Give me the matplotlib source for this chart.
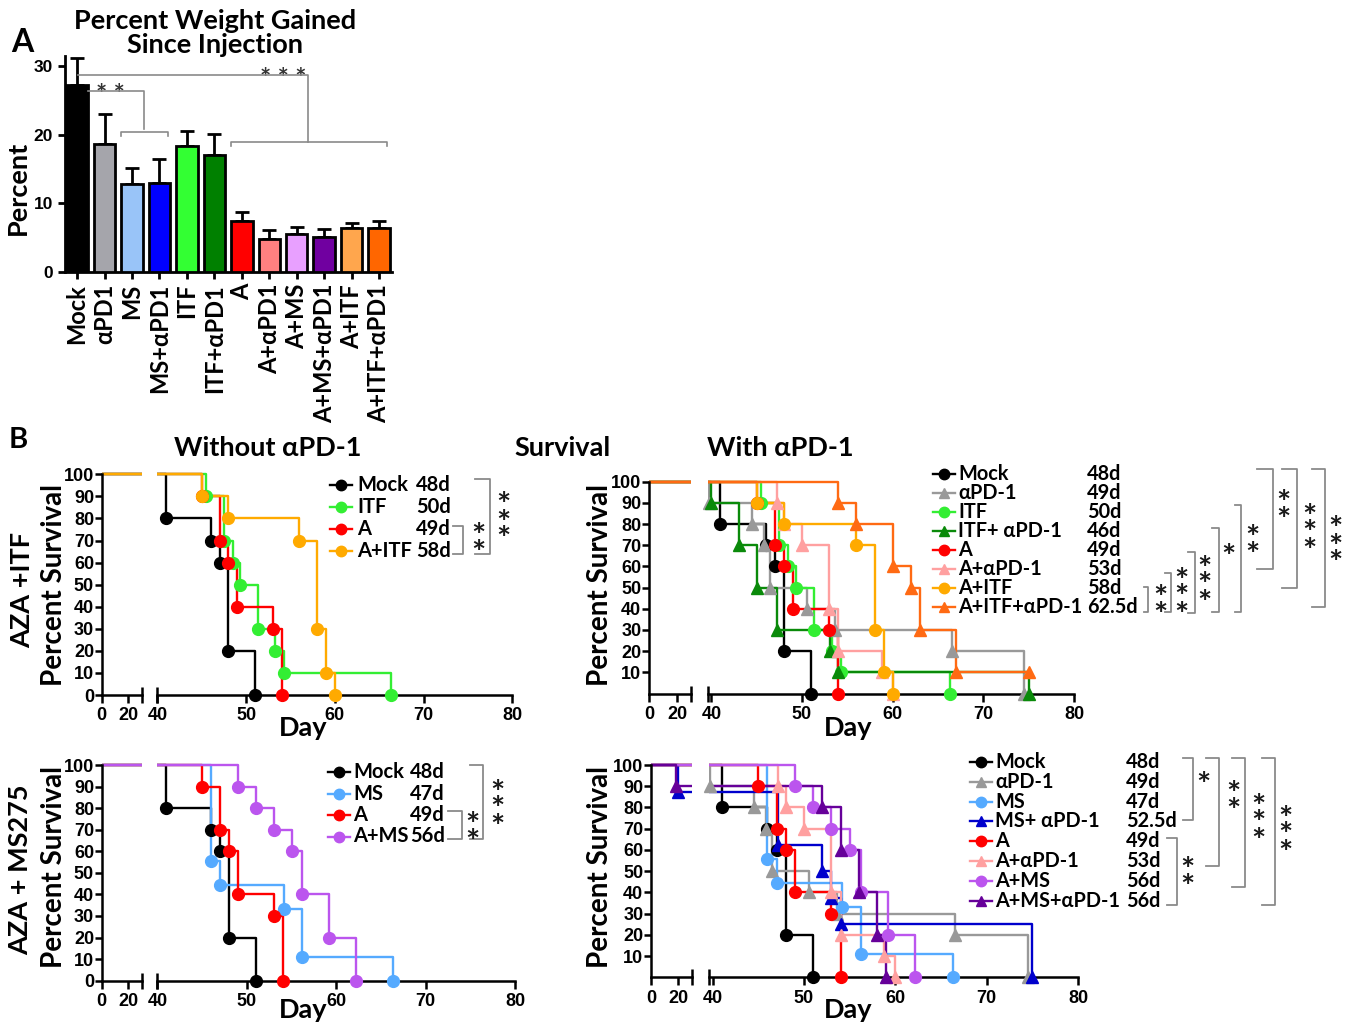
import matplotlib
matplotlib.use('Agg')
import matplotlib.pyplot as plt
from matplotlib.lines import Line2D

W, H = 1357, 1028
plt.rcParams['font.family'] = ['Lato', 'DejaVu Sans']
plt.rcParams['font.weight'] = 'bold'

# ---------------- Panel A : données
barres_noms = ['Mock', 'αPD1', 'MS', 'MS+αPD1', 'ITF', 'ITF+αPD1', 'A', 'A+αPD1',
               'A+MS', 'A+MS+αPD1', 'A+ITF', 'A+ITF+αPD1']
barres_moy = [27.2, 18.7, 12.8, 13.0, 18.3, 17.1, 7.5, 4.8, 5.6, 5.1, 6.4, 6.4]
barres_err = [4.0, 4.3, 2.4, 3.5, 2.3, 3.0, 1.2, 1.3, 1.0, 1.1, 0.8, 1.0]
barres_coul = ['#000000', '#a5a5ab', '#99c4f8', '#0000ff', '#33ff33', '#008000',
               '#ff0000', '#ff8080', '#e8a0ff', '#7000a0', '#ffa64d', '#ff6600']

# ---------------- Panel B : courbes de survie (jour, % après chaque décès)
mock_t = [41, 46, 47, 48, 51]
mock_s = [80, 70, 60, 20, 0]
apd1_t = [39.7, 44.5, 45.8, 46.5, 50.5, 53.6, 66.5, 74.5]
apd1_s = [90, 80, 70, 50, 40, 30, 20, 0]
itf_t = [45.5, 47.5, 48.5, 49.3, 51.3, 53.3, 54.3, 66.3]
itf_s = [90, 70, 60, 50, 30, 20, 10, 0]
itf_apd1_t = [40, 43, 45, 47.2, 53.1, 54, 75]
itf_apd1_s = [90, 70, 50, 30, 20, 10, 0]
a_t = [45, 47, 48, 49, 53, 54]
a_s = [90, 70, 60, 40, 30, 0]
a_apd1_t = [47.2, 48, 50, 53, 54, 58.8, 60]
a_apd1_s = [90, 80, 70, 40, 20, 10, 0]
a_itf_t = [45, 48, 56, 58, 59, 60]
a_itf_s = [90, 80, 70, 30, 10, 0]
a_itf_apd1_t = [54, 56, 60, 62, 63, 67, 75]
a_itf_apd1_s = [90, 80, 60, 50, 30, 10, 10]
ms_t = [46, 47, 54.2, 56.2, 66.3]
ms_s = [55.5, 44.4, 33.3, 11.1, 0]
ms_apd1_t = [20, 47.2, 52, 53, 54, 75]
ms_apd1_s = [87.5, 62.5, 50, 37.5, 25, 0]
a_ms_t = [49, 51, 53, 55, 56.2, 59.2, 62.2]
a_ms_s = [90, 80, 70, 60, 40, 20, 0]
a_ms_apd1_t = [18, 52, 54, 56, 58, 59]
a_ms_apd1_s = [90, 80, 60, 40, 20, 0]

# (temps, survie, couleur, marqueur)
G = {
    'mock': (mock_t, mock_s, '#000000', 'o'),
    'apd1': (apd1_t, apd1_s, '#999999', '^'),
    'itf': (itf_t, itf_s, '#33ee33', 'o'),
    'itf_apd1': (itf_apd1_t, itf_apd1_s, '#0a8a0a', '^'),
    'a': (a_t, a_s, '#ff0000', 'o'),
    'a_apd1': (a_apd1_t, a_apd1_s, '#ffa0a0', '^'),
    'a_itf': (a_itf_t, a_itf_s, '#ffaa00', 'o'),
    'a_itf_apd1': (a_itf_apd1_t, a_itf_apd1_s, '#ff6a13', '^'),
    'ms': (ms_t, ms_s, '#55aaff', 'o'),
    'ms_apd1': (ms_apd1_t, ms_apd1_s, '#0000cc', '^'),
    'a_ms': (a_ms_t, a_ms_s, '#bb55ee', 'o'),
    'a_ms_apd1': (a_ms_apd1_t, a_ms_apd1_s, '#660099', '^'),
}

tl_cles = ['mock', 'itf', 'a', 'a_itf']
tl_noms = ['Mock', 'ITF', 'A', 'A+ITF']
tl_med = ['48d', '50d', '49d', '58d']
tr_cles = ['mock', 'apd1', 'itf', 'itf_apd1', 'a', 'a_apd1', 'a_itf', 'a_itf_apd1']
tr_noms = ['Mock', 'αPD-1', 'ITF', 'ITF+ αPD-1', 'A', 'A+αPD-1', 'A+ITF', 'A+ITF+αPD-1']
tr_med = ['48d', '49d', '50d', '46d', '49d', '53d', '58d', '62.5d']
bl_cles = ['mock', 'ms', 'a', 'a_ms']
bl_noms = ['Mock', 'MS', 'A', 'A+MS']
bl_med = ['48d', '47d', '49d', '56d']
br_cles = ['mock', 'apd1', 'ms', 'ms_apd1', 'a', 'a_apd1', 'a_ms', 'a_ms_apd1']
br_noms = ['Mock', 'αPD-1', 'MS', 'MS+ αPD-1', 'A', 'A+αPD-1', 'A+MS', 'A+MS+αPD-1']
br_med = ['48d', '49d', '47d', '52.5d', '49d', '53d', '56d', '56d']

TICKFONT = dict(family='Liberation Sans', weight='bold', size=13)
GRIS = '#8a8a8a'

fig = plt.figure(figsize=(W / 100, H / 100), dpi=100)


def fx(x):
    return x / W


def fy(y):
    return 1 - y / H


def txt(x, y, s, **kw):
    kw.setdefault('ha', 'center')
    kw.setdefault('va', 'center')
    kw.setdefault('fontweight', 'bold')
    fig.text(fx(x), fy(y), s, **kw)


def ligne(xs, ys, **kw):
    fig.add_artist(Line2D([fx(x) for x in xs], [fy(y) for y in ys], **kw))


def crochet(x1, x2, ya, yb, n, xe, ye):
    ligne([x1, x2, x2, x1], [ya, ya, yb, yb], color=GRIS, lw=1.3)
    txt(xe, ye + 5, '\n'.join(['*'] * n), fontsize=24, linespacing=0.5, color='#1a1a1a')


# ================= Panel A
yb, ppu = 272, (272 - 66) / 30
axA = fig.add_axes([fx(65), fy(yb), fx(392 - 65), 31.5 * ppu / H])
xs = range(len(barres_noms))
axA.bar(xs, barres_moy, width=0.78, color=barres_coul, edgecolor='black', linewidth=2.0, zorder=3)
axA.errorbar(xs, barres_moy, yerr=[[0] * len(barres_err), barres_err], fmt='none',
             ecolor='black', elinewidth=2, capsize=5, capthick=2, zorder=2)
axA.set_xlim(-0.44, 11.47)
axA.set_ylim(0, 31.5)
axA.set_yticks([0, 10, 20, 30])
axA.set_xticks(list(xs))
axA.set_xticklabels(barres_noms, rotation=90, fontsize=17, fontweight='bold')
for lb in axA.get_yticklabels():
    lb.set_fontproperties(dict(family='Liberation Sans', weight='bold', size=12.5))
for s in ['top', 'right']:
    axA.spines[s].set_visible(False)
for s in ['left', 'bottom']:
    axA.spines[s].set_linewidth(2)
axA.tick_params(width=2, length=5)
# significativité
axA.plot([0.4, 2.45, 2.45], [26.3, 26.3, 20.8], color=GRIS, lw=1.2, zorder=4)
axA.plot([1.6, 1.6, 3.3, 3.3], [19.8, 20.4, 20.4, 19.8], color=GRIS, lw=1.2)
axA.plot([0.05, 8.4, 8.4], [28.7, 28.7, 19.0], color=GRIS, lw=1.2, zorder=4)
axA.plot([5.6, 5.6, 11.27, 11.27], [18.4, 19.0, 19.0, 18.4], color=GRIS, lw=1.2)
axA.text(1.2, 24.0, '* *', ha='center', va='bottom', fontsize=19, color='#333333')
axA.text(7.5, 26.4, '* * *', ha='center', va='bottom', fontsize=19, color='#333333')

txt(215, 33, 'Percent Weight Gained\nSince Injection', fontsize=19.5, linespacing=0.98)
txt(22, 42, 'A', fontsize=23)
txt(18, 188, 'Percent', fontsize=19.5, rotation=90)

# ================= Panel B
txt(18, 440, 'B', fontsize=21)
txt(268, 448, 'Without αPD-1', fontsize=19.5)
txt(563, 448, 'Survival', fontsize=19.5)
txt(780, 448, 'With αPD-1', fontsize=19.5)
txt(22, 590, 'AZA +ITF', fontsize=19.5, rotation=90)
txt(20, 870, 'AZA + MS275', fontsize=19.5, rotation=90)


def survie(cles, xg, xc, xd, x80, deb, y0, y100, zero_lab):
    u = (y0 - y100) / 100
    bas, haut = y0 + 4 * u, y100 - 4 * u
    axg = fig.add_axes([fx(xg), fy(bas), fx(xc - xg), (bas - haut) / H])
    axd = fig.add_axes([fx(xd), fy(bas), fx(x80 - xd), (bas - haut) / H])
    axg.set_xlim(0, 30)
    axd.set_xlim(deb, 80)
    for ax, lim in ((axg, (0, 30)), (axd, (deb, 80))):
        ax.set_ylim(-4, 104)
        ax.patch.set_alpha(0)
        for c in cles:
            t, s, col, m = G[c]
            ax.plot([0] + t, [100] + s, drawstyle='steps-post', color=col, lw=1.7)
            pts = [(a, b) for a, b in zip(t, s) if lim[0] - 0.3 <= a <= lim[1]]
            if pts:
                ax.plot([p[0] for p in pts], [p[1] for p in pts], ls='none', marker=m,
                        ms=8.5, color=col, mec=col, clip_on=False, zorder=3)
        for s in ['top', 'right']:
            ax.spines[s].set_visible(False)
        ax.spines['bottom'].set_position(('data', 0))
        ax.spines['bottom'].set_linewidth(1.8)
        ax.tick_params(axis='x', direction='out', length=6, width=1.8, pad=3)
    axg.set_xticks([0, 20])
    axd.set_xticks([40, 50, 60, 70, 80])
    axg.plot([30], [0], marker='|', ms=11, mew=1.8, color='black', clip_on=False)
    axd.plot([deb], [0], marker='|', ms=11, mew=1.8, color='black', clip_on=False)
    axd.spines['left'].set_visible(False)
    axd.set_yticks([])
    axg.spines['left'].set_bounds(0, 100)
    axg.spines['left'].set_linewidth(1.8)
    axg.set_yticks(range(0 if zero_lab else 10, 101, 10))
    axg.tick_params(axis='y', direction='out', length=5, width=1.8, pad=0.5)
    for ax in (axg, axd):
        for lb in ax.get_xticklabels() + ax.get_yticklabels():
            lb.set_fontproperties(TICKFONT)
    return axg, axd


def legende(cles, noms, meds, xs0, xn, xm, y0, dy, taille, ha_med='left'):
    for i, c in enumerate(cles):
        t, s, col, m = G[c]
        y = y0 + i * dy
        ligne([xs0, xs0 + 22], [y, y], color=col, lw=1.7)
        ligne([xs0 + 11], [y], color=col, marker=m, ms=7.5)
        txt(xn, y, noms[i], fontsize=taille, ha='left')
        txt(xm, y, meds[i], fontsize=taille, ha=ha_med)


# haut gauche
survie(tl_cles, 101.7, 141.7, 157, 512.3, 39.95, 695, 474.3, True)
txt(54, 585, 'Percent Survival', fontsize=20, rotation=90)
txt(303, 728, 'Day', fontsize=19.5)
legende(tl_cles, tl_noms, tl_med, 330, 357, 451, 485, 22, 14.5, 'right')
crochet(453, 463, 526, 554, 2, 478, 541)
crochet(475, 490, 479, 554, 3, 503, 519)

# haut droite
survie(tr_cles, 649, 691, 707.7, 1074, 39.6, 693.5, 481.7, False)
txt(600, 585, 'Percent Survival', fontsize=20, rotation=90)
txt(848, 728, 'Day', fontsize=19.5)
legende(tr_cles, tr_noms, tr_med, 933, 958, 1087, 474, 19, 14.3)
crochet(1144, 1148, 587, 612, 2, 1160, 603)
crochet(1165, 1171, 573, 612, 3, 1181, 594)
crochet(1188, 1195, 552, 613, 3, 1204, 582)
crochet(1212, 1219, 528, 612, 1, 1228, 553)
crochet(1235, 1241, 505, 612, 2, 1252, 543)
crochet(1257, 1273, 469, 569, 2, 1283, 508)
crochet(1282, 1297, 469, 588, 3, 1309, 530)
crochet(1312, 1325, 469, 607, 3, 1335, 543)

# bas gauche
survie(bl_cles, 101.7, 141.7, 157, 515, 39.95, 980.7, 765, True)
txt(54, 867, 'Percent Survival', fontsize=20, rotation=90)
txt(303, 1010, 'Day', fontsize=19.5)
legende(bl_cles, bl_noms, bl_med, 328, 353, 445, 772, 21.5, 14.5, 'right')
crochet(448, 462, 811, 839, 2, 472, 830)
crochet(470, 483, 765, 839, 3, 497, 806)

# bas droite
survie(br_cles, 651, 692, 709, 1078, 39.6, 977.3, 765, False)
txt(600, 867, 'Percent Survival', fontsize=20, rotation=90)
txt(848, 1010, 'Day', fontsize=19.5)
legende(br_cles, br_noms, br_med, 970, 995, 1126, 762, 19.8, 14.3)
crochet(1183, 1193, 758, 820, 1, 1203, 781)
crochet(1167, 1177, 838, 905, 2, 1187, 875)
crochet(1206, 1219, 758, 866, 2, 1233, 799)
crochet(1232, 1245, 758, 887, 3, 1258, 820)
crochet(1262, 1275, 758, 905, 3, 1285, 832)

fig.savefig('out.png', dpi=100)
